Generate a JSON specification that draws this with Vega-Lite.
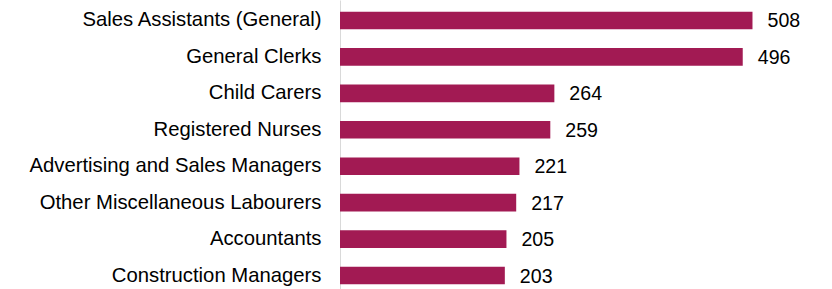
{
  "$schema": "https://vega.github.io/schema/vega-lite/v6.json",
  "width": 488,
  "height": 296,
  "autosize": {"type": "none"},
  "padding": {"left": 340, "top": 0, "right": 0, "bottom": 0},
  "background": "white",
  "config": {"view": {"stroke": null}, "font": "Liberation Sans"},
  "data": {"values": [
    {"occupation": "Sales Assistants (General)", "value": 508},
    {"occupation": "General Clerks", "value": 496},
    {"occupation": "Child Carers", "value": 264},
    {"occupation": "Registered Nurses", "value": 259},
    {"occupation": "Advertising and Sales Managers", "value": 221},
    {"occupation": "Other Miscellaneous Labourers", "value": 217},
    {"occupation": "Accountants", "value": 205},
    {"occupation": "Construction Managers", "value": 203}
  ]},
  "encoding": {
    "y": {"field": "occupation", "type": "nominal", "sort": null,
      "scale": {"paddingInner": 0.516, "paddingOuter": 0.32},
      "axis": {"title": null, "ticks": false, "domain": true, "domainColor": "#d9d9d9", "domainWidth": 1,
        "labelFontSize": 20.3, "labelColor": "#000000", "labelPadding": 19, "labelFont": "Liberation Sans", "labelLimit": 400}},
    "x": {"field": "value", "type": "quantitative", "scale": {"domain": [0, 601]}, "axis": null}
  },
  "layer": [
    {"mark": {"type": "bar", "color": "#A21A53"}},
    {"mark": {"type": "text", "align": "left", "baseline": "middle", "dx": 15, "dy": 1, "fontSize": 19.6, "color": "#000000", "font": "Liberation Sans"},
     "encoding": {"text": {"field": "value", "type": "quantitative"}}}
  ]
}
